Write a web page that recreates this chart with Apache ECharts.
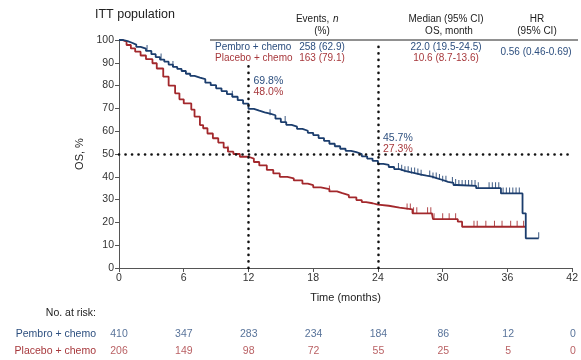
<!DOCTYPE html>
<html>
<head>
<meta charset="utf-8">
<script src="https://cdn.jsdelivr.net/npm/echarts@6/dist/echarts.min.js"></script>
<style>
  html, body { margin: 0; padding: 0; background: #fff; }
  #chart { width: 581px; height: 360px; }
</style>
</head>
<body>
<div id="chart"></div>
<script>
// Kaplan-Meier overall survival, ITT population
const monthTicks = [0, 6, 12, 18, 24, 30, 36, 42];
const armNames = ['Pembro + chemo', 'Placebo + chemo'];

// [month, OS %] at each drop of the curve
const pembroCurve = [
  [0, 100], [0.4, 99.5], [0.8, 98.8], [1.2, 98.0], [1.6, 97.0], [2.0, 96.2], [2.5, 95.2],
  [3.0, 93.8], [3.4, 92.5], [3.8, 91.4], [4.2, 90.5], [4.6, 89.2], [5.0, 88.2], [5.4, 87.3],
  [5.8, 86.4], [6.2, 85.2], [6.6, 84.3], [7.0, 83.5], [7.5, 82.8], [8.0, 81.3], [8.5, 80.2],
  [9.0, 78.8], [9.5, 77.6], [10.0, 76.3], [10.5, 75.1], [11.0, 73.6], [11.5, 72.1], [12.0, 69.8],
  [12.5, 69.0], [13.0, 68.3], [13.5, 67.7], [14.0, 67.0], [14.5, 65.5], [15.0, 64.0], [15.5, 62.8],
  [16.0, 62.0], [16.5, 61.0], [17.0, 60.2], [17.5, 59.3], [18.0, 58.3], [18.5, 57.0], [19.0, 55.8],
  [19.5, 54.5], [20.0, 53.4], [20.5, 52.3], [21.0, 51.4], [21.5, 50.8], [22.0, 50.0], [22.5, 49.0],
  [23.0, 48.0], [23.5, 47.0], [24.0, 45.7], [24.5, 45.2], [25.0, 44.3], [25.5, 43.4], [26.0, 42.6],
  [26.5, 42.0], [27.0, 41.5], [27.5, 41.0], [28.0, 40.5], [28.5, 40.1], [29.0, 39.3], [29.5, 38.6],
  [30.0, 37.8], [30.5, 37.3], [31.0, 36.4], [31.3, 36.0], [33.1, 35.0], [35.4, 32.7], [37.4, 24.0],
  [37.7, 13.0], [38.9, 13.0]
];
const placeboCurve = [
  [0, 100], [0.3, 99.3], [0.7, 97.8], [1.1, 96.3], [1.5, 94.9], [2.0, 93.2], [2.5, 91.6],
  [3.1, 89.8], [3.5, 87.5], [4.1, 83.9], [4.6, 80.0], [5.2, 76.6], [5.6, 74.0], [6.0, 72.2],
  [6.7, 69.5], [7.0, 66.4], [7.5, 62.7], [7.8, 61.3], [8.2, 59.0], [8.7, 56.9], [9.2, 55.0],
  [9.7, 52.8], [10.1, 51.0], [10.6, 50.0], [11.2, 48.8], [12.0, 48.0], [12.5, 46.5], [13.0, 45.0],
  [13.7, 43.0], [14.3, 41.5], [14.9, 40.0], [15.6, 39.3], [16.2, 38.4], [17.0, 37.0], [17.5, 36.3],
  [18.0, 35.4], [18.7, 34.6], [19.5, 33.6], [20.2, 32.8], [20.7, 32.0], [21.3, 31.0], [22.0, 29.8],
  [22.5, 28.9], [22.9, 28.4], [23.5, 27.8], [24.0, 27.3], [25.0, 26.5], [26.0, 25.7], [27.2, 24.0],
  [29.0, 23.2], [29.1, 21.4], [31.4, 20.3], [31.8, 18.1], [37.7, 18.1]
];

// censoring times (months)
const pembroCensor = [2.6, 3.9, 5.0, 10.5, 14.0, 15.4, 25.9, 26.2, 26.5, 26.8, 27.1, 27.4, 27.7, 28.0,
  28.8, 29.1, 29.4, 29.7, 30.0, 30.3, 30.9, 31.2, 31.5, 31.8, 32.1, 32.4, 32.7, 33.0, 33.3,
  34.3, 34.6, 34.9, 35.2, 35.6, 35.9, 36.2, 36.5, 36.8, 37.1, 38.9];
const placeboCensor = [10.1, 19.5, 26.7, 27.0, 27.3, 27.6, 28.6, 28.9, 29.2, 30.0, 30.6, 31.2,
  32.9, 33.2, 34.0, 34.8, 35.5, 36.3, 36.9, 37.5];

// landmark survival estimates
const landmarkMonths = [12, 24];
const pembroLandmark = [69.8, 45.7];
const placeboLandmark = [48.0, 27.3];

// number at risk under each month tick
const pembroAtRisk = [410, 347, 283, 234, 184, 86, 12, 0];
const placeboAtRisk = [206, 149, 98, 72, 55, 25, 5, 0];

// summary table
const eventsText = ['258 (62.9)', '163 (79.1)'];
const medianText = ['22.0 (19.5-24.5)', '10.6 (8.7-13.6)'];
const hrText = '0.56 (0.46-0.69)';

const BLUE = '#1b3d6d';
const RED = '#a3282c';
const BLUE_TXT = '#2d4f7f';
const RED_TXT = '#a7383c';
const FONT = '"Liberation Sans", Arial, sans-serif';

function survivalAt(curve, t) {
  let v = curve[0][1];
  for (const [x, y] of curve) { if (x <= t) v = y; else break; }
  return v;
}

const dotted = { color: '#111', width: 2.6, type: [0.1, 6.4], cap: 'round' };

function txt(x, y, text, color, align, size, style) {
  return {
    type: 'text', x, y, silent: true,
    style: {
      text, fill: color, font: (style || '') + ' ' + (size || 10) + 'px ' + FONT,
      align: align || 'left', verticalAlign: 'middle'
    }
  };
}

const chart = echarts.init(document.getElementById('chart'), null, { renderer: 'canvas' });

const graphics = [
  txt(95, 15, 'ITT population', '#222', 'left', 12.5),
  txt(314, 19, 'Events, ', '#222', 'center'),
  txt(333, 19, 'n', '#222', 'left', 10, 'italic'),
  txt(322, 31, '(%)', '#222', 'center'),
  txt(446, 19, 'Median (95% CI)', '#222', 'center'),
  txt(449, 31, 'OS, month', '#222', 'center'),
  txt(537, 19, 'HR', '#222', 'center'),
  txt(537, 31, '(95% CI)', '#222', 'center'),
  { type: 'line', silent: true, shape: { x1: 210, y1: 40, x2: 578, y2: 40 }, style: { stroke: '#222', lineWidth: 1 } },
  txt(215, 47, armNames[0], BLUE_TXT, 'left'),
  txt(215, 58, armNames[1], RED_TXT, 'left'),
  txt(322, 47, eventsText[0], BLUE_TXT, 'center'),
  txt(322, 58, eventsText[1], RED_TXT, 'center'),
  txt(446, 47, medianText[0], BLUE_TXT, 'center'),
  txt(446, 58, medianText[1], RED_TXT, 'center'),
  txt(536, 52, hrText, BLUE_TXT, 'center'),
  txt(96, 313, 'No. at risk:', '#222', 'right', 10.5)
];

chart.setOption({
  animation: false,
  backgroundColor: '#fff',
  textStyle: { fontFamily: FONT },
  grid: [
    { left: 119, right: 8, top: 40, bottom: 92 },
    { left: 119, right: 8, top: 325, height: 40 }
  ],
  xAxis: [
    {
      type: 'value', gridIndex: 0, min: 0, max: 42, interval: 6,
      name: 'Time (months)', nameLocation: 'middle', nameGap: 24,
      nameTextStyle: { color: '#222', fontSize: 11 },
      axisLine: { lineStyle: { color: '#555', width: 1 } },
      axisTick: { length: 4, lineStyle: { color: '#555' } },
      axisLabel: { color: '#333', fontSize: 10.5, margin: 5 },
      splitLine: { show: false }
    },
    { type: 'value', gridIndex: 1, min: 0, max: 42, show: false }
  ],
  yAxis: [
    {
      type: 'value', gridIndex: 0, min: 0, max: 100, interval: 10,
      name: 'OS, %', nameLocation: 'middle', nameGap: 25, nameRotate: 90,
      nameTextStyle: { color: '#222', fontSize: 11 },
      axisLine: { show: true, lineStyle: { color: '#555', width: 1 } },
      axisTick: { show: true, length: 4, lineStyle: { color: '#555' } },
      axisLabel: { color: '#333', fontSize: 10.5, margin: 5 },
      splitLine: { show: false }
    },
    {
      type: 'category', gridIndex: 1, data: [armNames[1], armNames[0]],
      axisLine: { show: false }, axisTick: { show: false },
      axisLabel: {
        fontSize: 10.5, margin: 23,
        color: (v) => v === armNames[0] ? BLUE_TXT : RED_TXT
      }
    }
  ],
  series: [
    {
      name: armNames[1], type: 'line', step: 'end', data: placeboCurve,
      showSymbol: false, symbol: 'none', lineStyle: { color: RED, width: 1.8 }, z: 3
    },
    {
      name: armNames[0], type: 'line', step: 'end', data: pembroCurve,
      showSymbol: false, symbol: 'none', lineStyle: { color: BLUE, width: 1.8 }, z: 4,
      markLine: {
        silent: true, symbol: 'none', label: { show: false }, lineStyle: dotted,
        data: [
          [{ coord: [landmarkMonths[0], 0] }, { coord: [landmarkMonths[0], 91] }],
          [{ coord: [landmarkMonths[1], 0] }, { coord: [landmarkMonths[1], 97] }],
          [{ coord: [0, 50] }, { coord: [42, 50] }]
        ]
      }
    },
    {
      type: 'scatter', data: placeboCensor.map(t => [t, survivalAt(placeboCurve, t)]),
      symbol: 'rect', symbolSize: [1, 6], symbolOffset: [0, -3],
      itemStyle: { color: RED, opacity: 0.85 }, silent: true, z: 3
    },
    {
      type: 'scatter', data: pembroCensor.map(t => [t, survivalAt(pembroCurve, t)]),
      symbol: 'rect', symbolSize: [1, 6], symbolOffset: [0, -3],
      itemStyle: { color: BLUE, opacity: 0.85 }, silent: true, z: 4
    },
    {
      type: 'scatter', xAxisIndex: 1, yAxisIndex: 1, symbolSize: 0,
      data: monthTicks.map((m, i) => [m, armNames[0], pembroAtRisk[i]]),
      label: { show: true, position: 'inside', formatter: p => p.value[2], color: BLUE_TXT, fontSize: 10.5 },
      silent: true
    },
    {
      type: 'scatter', xAxisIndex: 1, yAxisIndex: 1, symbolSize: 0,
      data: monthTicks.map((m, i) => [m, armNames[1], placeboAtRisk[i]]),
      label: { show: true, position: 'inside', formatter: p => p.value[2], color: RED_TXT, fontSize: 10.5 },
      silent: true
    }
  ],
  graphic: graphics
});

// landmark percentages beside the dotted verticals
const labelRows = [[81, 92], [138, 149]];
const landmarkLabels = [];
landmarkMonths.forEach((m, i) => {
  const x = chart.convertToPixel({ xAxisIndex: 0 }, m) + 5;
  landmarkLabels.push(txt(x, labelRows[i][0], pembroLandmark[i].toFixed(1) + '%', BLUE_TXT, 'left', 10.5));
  landmarkLabels.push(txt(x, labelRows[i][1], placeboLandmark[i].toFixed(1) + '%', RED_TXT, 'left', 10.5));
});
chart.setOption({ graphic: graphics.concat(landmarkLabels) });
</script>
</body>
</html>
